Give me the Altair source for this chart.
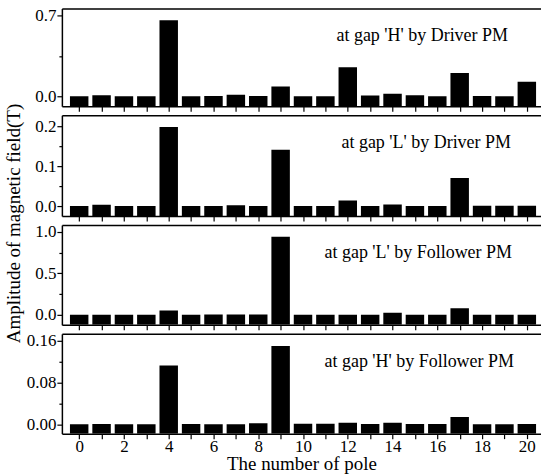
import altair as alt
import pandas as pd

poles = list(range(21))

h_driver = [0.0, 0.008, 0.0, 0.0, 0.66, 0.0, 0.003, 0.014, 0.003, 0.084, 0.0,
            0.0, 0.253, 0.006, 0.022, 0.008, 0.0, 0.202, 0.003, 0.0, 0.126]
l_driver = [0.0, 0.003, 0.0, 0.0, 0.198, 0.0, 0.0, 0.002, 0.0, 0.141, 0.0,
            0.0, 0.014, 0.0, 0.004, 0.0, 0.0, 0.07, 0.001, 0.001, 0.001]
l_follower = [0.0, 0.0, 0.0, 0.0, 0.053, 0.0, 0.003, 0.003, 0.003, 0.94, 0.0,
              0.0, 0.0, 0.0, 0.024, 0.0, 0.0, 0.078, 0.0, 0.002, 0.0]
h_follower = [0.0, 0.0006, 0.0, 0.0, 0.1125, 0.0006, 0.0, 0.0, 0.002, 0.150, 0.001,
              0.001, 0.003, 0.0006, 0.003, 0.0006, 0.0006, 0.014, 0.0, 0.0, 0.0006]

series = [h_driver, l_driver, l_follower, h_follower]
labels = ["at gap 'H' by Driver PM", "at gap 'L' by Driver PM",
          "at gap 'L' by Follower PM", "at gap 'H' by Follower PM"]
major_ticks = [[0.0, 0.7], [0.0, 0.1, 0.2], [0.0, 0.5, 1.0], [0.0, 0.08, 0.16]]
minor_ticks = [[0.35], [0.05, 0.15], [0.25, 0.75], [0.04, 0.12]]
tick_formats = [".1f", ".1f", ".1f", ".2f"]

y_domains = [[-0.0867, 0.7633], [-0.025, 0.2275], [-0.12, 1.08], [-0.0178, 0.1734]]
heights = [98, 101, 100, 100]
label_x = [361, 365, 357, 358]
x_domain = [-0.55, 20.41]
FONT = "Times New Roman"


def panel(i):
    df = pd.DataFrame({"pole": poles, "amp": series[i]})
    bottom = i == 3
    xscale = alt.Scale(domain=x_domain, nice=False, zero=False)
    yscale = alt.Scale(domain=y_domains[i], nice=False, zero=False)
    x_axis = alt.Axis(
        values=poles, tickSize=5, labels=bottom, format="d",
        labelExpr="datum.value % 2 == 0 ? datum.label : ''",
        title="The number of pole" if bottom else None,
        titleFontSize=19, titleFont=FONT, titleFontWeight="normal",
        labelFont=FONT, titlePadding=0, grid=False, labelPadding=0,
    )
    y_kwargs = dict(values=major_ticks[i], format=tick_formats[i], tickSize=5,
                    grid=False, labelPadding=1, labelFont=FONT)
    if i == 2:
        y_kwargs.update(title="Amplitude of magnetic field(T)", titleFontSize=19,
                        titleFont=FONT, titleFontWeight="normal", titleX=-48,
                        titleY=-2, titleBaseline="middle", titleAngle=-90,
                        titleAlign="center")
    else:
        y_kwargs.update(title=None)
    bars = alt.Chart(df).transform_calculate(
        base=str(y_domains[i][0])
    ).mark_bar(color="black", size=18.5, clip=True).encode(
        x=alt.X("pole:Q", scale=xscale, axis=x_axis),
        y=alt.Y("amp:Q", scale=yscale, axis=alt.Axis(**y_kwargs)),
        y2="base:Q",
    )
    frame = alt.Chart(df).mark_point(opacity=0).encode(
        x=alt.X("pole:Q", scale=xscale,
                axis=alt.Axis(orient="top", ticks=False, labels=False, title=None,
                              grid=False)),
        y=alt.Y("amp:Q", scale=yscale,
                axis=alt.Axis(orient="left", values=minor_ticks[i], labels=False,
                              domain=False, tickSize=3, title=None, grid=False)),
    )
    txt = alt.Chart(pd.DataFrame({"label": [labels[i]]})).mark_text(
        font=FONT, fontSize=18, align="center", baseline="middle", color="black"
    ).encode(text="label:N", x=alt.value(label_x[i]), y=alt.value(28))
    return (alt.layer(bars, frame, txt)
            .resolve_axis(x="independent", y="independent")
            .properties(width=480, height=heights[i]))


chart = alt.vconcat(*[panel(i) for i in range(4)], spacing=9, bounds="flush").properties(
    padding={"left": 4, "top": 6, "right": 0, "bottom": 0}
).configure(font=FONT).configure_view(stroke=None).configure_axis(
    labelFont=FONT, titleFont=FONT, labelFontSize=17, labelColor="black",
    tickColor="black", domainColor="black", domainWidth=1.5, tickWidth=1.2,
    titleColor="black",
)

chart.save("out.html", embed_options={"renderer": "svg", "actions": False})
